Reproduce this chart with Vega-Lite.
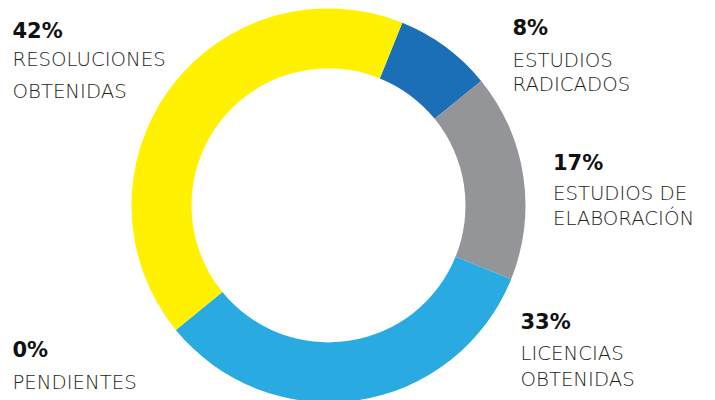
{
  "$schema": "https://vega.github.io/schema/vega-lite/v6.json",
  "width": 715,
  "height": 400,
  "autosize": {"type": "fit", "contains": "padding"},
  "padding": 0,
  "background": "white",
  "config": {"view": {"stroke": null}},
  "datasets": {
    "segments": [
      {"category": "Estudios radicados", "pct": 8, "order": 1},
      {"category": "Estudios de elaboración", "pct": 17, "order": 2},
      {"category": "Licencias obtenidas", "pct": 33, "order": 3},
      {"category": "Resoluciones obtenidas", "pct": 42, "order": 4},
      {"category": "Pendientes", "pct": 0, "order": 5}
    ],
    "labels": [
      {"text": "42%", "kind": "pct", "x": -316, "y": 170},
      {"text": "RESOLUCIONES", "kind": "name", "x": -316, "y": 141},
      {"text": "OBTENIDAS", "kind": "name", "x": -316, "y": 109},
      {"text": "8%", "kind": "pct", "x": 184, "y": 173},
      {"text": "ESTUDIOS", "kind": "name", "x": 184, "y": 140},
      {"text": "RADICADOS", "kind": "name", "x": 184, "y": 116},
      {"text": "17%", "kind": "pct", "x": 224.5, "y": 36},
      {"text": "ESTUDIOS DE", "kind": "name", "x": 224.5, "y": 5},
      {"text": "ELABORACIÓN", "kind": "name", "x": 224.5, "y": -20},
      {"text": "33%", "kind": "pct", "x": 192, "y": -125},
      {"text": "LICENCIAS", "kind": "name", "x": 192, "y": -157},
      {"text": "OBTENIDAS", "kind": "name", "x": 192, "y": -183},
      {"text": "0%", "kind": "pct", "x": -316, "y": -154},
      {"text": "PENDIENTES", "kind": "name", "x": -316, "y": -186}
    ]
  },
  "layer": [
    {
      "data": {"name": "segments"},
      "mark": {"type": "arc", "outerRadius": 197, "innerRadius": 137},
      "encoding": {
        "theta": {"field": "pct", "type": "quantitative", "stack": true, "scale": {"range": [0.384, 6.667]}},
        "order": {"field": "order", "type": "quantitative"},
        "color": {
          "field": "category",
          "type": "nominal",
          "scale": {
            "domain": ["Estudios radicados", "Estudios de elaboración", "Licencias obtenidas", "Resoluciones obtenidas", "Pendientes"],
            "range": ["#1b6fb7", "#939598", "#29abe2", "#fff100", "#cccccc"]
          },
          "legend": null
        },
        "x": {"datum": 0, "type": "quantitative", "scale": {"domain": [-328.5, 386.5], "zero": false, "nice": false}, "axis": null},
        "y": {"datum": 0, "type": "quantitative", "scale": {"domain": [-192, 208], "zero": false, "nice": false}, "axis": null}
      }
    },
    {
      "data": {"name": "labels"},
      "transform": [{"filter": "datum.kind === 'pct'"}],
      "mark": {"type": "text", "align": "left", "baseline": "alphabetic", "font": "DejaVu Sans", "fontWeight": "bold", "fontSize": 21, "color": "#111111"},
      "encoding": {
        "x": {"field": "x", "type": "quantitative", "scale": {"domain": [-328.5, 386.5], "zero": false, "nice": false}, "axis": null},
        "y": {"field": "y", "type": "quantitative", "scale": {"domain": [-192, 208], "zero": false, "nice": false}, "axis": null},
        "text": {"field": "text", "type": "nominal"}
      }
    },
    {
      "data": {"name": "labels"},
      "transform": [{"filter": "datum.kind === 'name'"}],
      "mark": {"type": "text", "align": "left", "baseline": "alphabetic", "font": "DejaVu Sans", "fontWeight": 200, "fontSize": 19.7, "color": "#231f20"},
      "encoding": {
        "x": {"field": "x", "type": "quantitative", "scale": {"domain": [-328.5, 386.5], "zero": false, "nice": false}, "axis": null},
        "y": {"field": "y", "type": "quantitative", "scale": {"domain": [-192, 208], "zero": false, "nice": false}, "axis": null},
        "text": {"field": "text", "type": "nominal"}
      }
    }
  ]
}
